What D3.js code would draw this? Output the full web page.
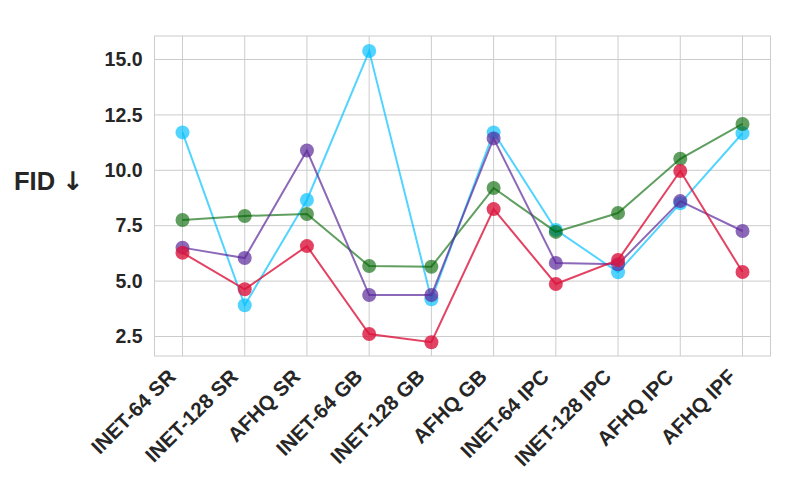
<!DOCTYPE html>
<html>
<head>
<meta charset="utf-8">
<script src="https://cdn.jsdelivr.net/npm/d3@7"></script>
<style>
  body { margin: 0; background: #fff; }
  svg { display: block; font-family: "Liberation Sans", Arial, sans-serif; }
</style>
</head>
<body>
<svg id="chart" width="800" height="500"></svg>
<script>
const categories = ["INET-64 SR", "INET-128 SR", "AFHQ SR", "INET-64 GB", "INET-128 GB", "AFHQ GB", "INET-64 IPC", "INET-128 IPC", "AFHQ IPC", "AFHQ IPF"];
const cyanValues   = [11.71, 3.91, 8.66, 15.38, 4.18, 11.71, 7.31, 5.40, 8.51, 11.67];
const greenValues  = [7.76, 7.94, 8.03, 5.68, 5.65, 9.20, 7.22, 8.07, 10.52, 12.09];
const purpleValues = [6.51, 6.04, 10.89, 4.37, 4.37, 11.44, 5.82, 5.76, 8.61, 7.26];
const redValues    = [6.28, 4.63, 6.58, 2.61, 2.24, 8.25, 4.87, 5.95, 9.97, 5.41];
const yTicks = [2.5, 5.0, 7.5, 10.0, 12.5, 15.0];
const yLabelText = "FID";
const yLabelArrow = "↓";

const series = [
  { name: "cyan", values: cyanValues, color: "#00BFFF", alpha: 0.68 },
  { name: "green", values: greenValues, color: "#006400", alpha: 0.62 },
  { name: "purple", values: purpleValues, color: "#5B2A9A", alpha: 0.7 },
  { name: "red", values: redValues, color: "#DC143C", alpha: 0.8 }
];

const svg = d3.select("#chart");
const mLeft = 154.5, mRight = 770.5, mTop = 36, mBottom = 356;

const x = d3.scalePoint().domain(categories).range([mLeft, mRight]).padding(0.45);
const y = d3.scaleLinear().domain([1.62, 16.06]).range([mBottom, mTop]);

const textColor = "#262626";
const gridColor = "#cccccc";
const fontFam = "'Liberation Sans', Arial, sans-serif";

// grid
const g = svg.append("g");
g.selectAll("line.vg").data(categories).join("line")
  .attr("x1", d => x(d)).attr("x2", d => x(d))
  .attr("y1", mTop).attr("y2", mBottom)
  .attr("stroke", gridColor).attr("stroke-width", 1);
g.selectAll("line.hg").data(yTicks).join("line")
  .attr("x1", mLeft).attr("x2", mRight)
  .attr("y1", d => y(d)).attr("y2", d => y(d))
  .attr("stroke", gridColor).attr("stroke-width", 1);
// frame
svg.append("rect").attr("x", mLeft).attr("y", mTop)
  .attr("width", mRight - mLeft).attr("height", mBottom - mTop)
  .attr("fill", "none").attr("stroke", gridColor).attr("stroke-width", 1);

// y axis tick labels via d3 axis
const yAxis = svg.append("g").attr("transform", `translate(${mLeft},0)`)
  .call(d3.axisLeft(y).tickValues(yTicks).tickFormat(d3.format(".1f")).tickSize(0).tickPadding(12));
yAxis.select(".domain").remove();
yAxis.selectAll("text").attr("font-size", 19.5).attr("font-weight", "bold")
  .attr("fill", textColor).attr("font-family", fontFam);

// x axis labels
const xAxis = svg.append("g").attr("transform", `translate(0,${mBottom})`)
  .call(d3.axisBottom(x).tickSize(0).tickPadding(0));
xAxis.select(".domain").remove();
xAxis.selectAll("text")
  .attr("font-size", 20.5).attr("font-weight", "bold").attr("fill", textColor)
  .attr("font-family", fontFam)
  .attr("text-anchor", "end")
  .attr("dy", null).attr("y", null)
  .attr("transform", "translate(-6,22) rotate(-45)");

// y label
const yl = svg.append("text").attr("x", 14).attr("y", 190)
  .attr("font-size", 25.5).attr("font-weight", "bold").attr("fill", textColor)
  .attr("font-family", fontFam);
yl.append("tspan").text(yLabelText + " ");
yl.append("tspan").attr("font-family", "Roboto, 'Noto Sans', 'DejaVu Sans', sans-serif").text(yLabelArrow);

// series
const line = d3.line().x((d, i) => x(categories[i])).y(d => y(d));
series.forEach(s => {
  const sg = svg.append("g");
  sg.append("path").datum(s.values)
    .attr("d", line).attr("fill", "none")
    .attr("stroke", s.color).attr("stroke-opacity", s.alpha).attr("stroke-width", 2);
  sg.selectAll("circle").data(s.values).join("circle")
    .attr("cx", (d, i) => x(categories[i])).attr("cy", d => y(d)).attr("r", 7)
    .attr("fill", s.color).attr("fill-opacity", s.alpha);
});
</script>
</body>
</html>
